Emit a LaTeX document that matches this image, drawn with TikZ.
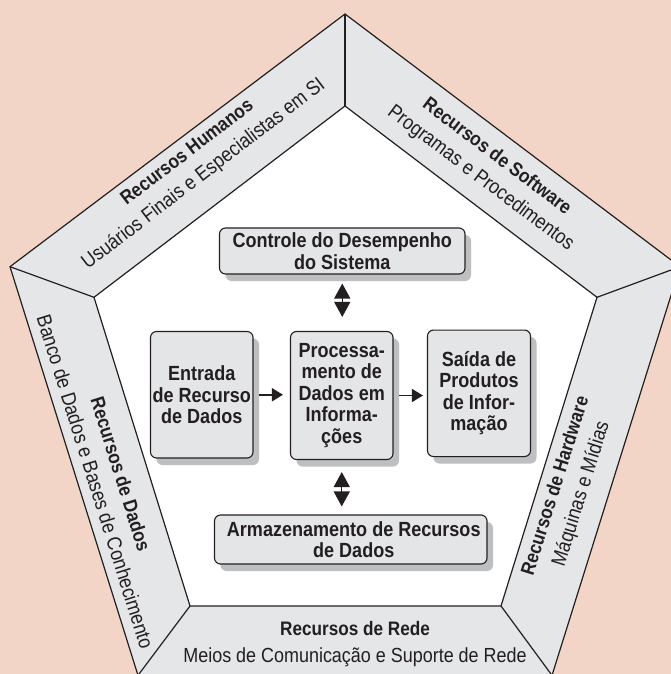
\documentclass[tikz,border=0pt]{standalone}
\usepackage{fontspec}
\setmainfont[FakeStretch=0.88]{Liberation Sans}
\usetikzlibrary{arrows.meta,shadows}

\definecolor{bgpink}{RGB}{242,213,198}
\definecolor{bandgray}{RGB}{229,230,232}
\definecolor{boxgray}{RGB}{228,229,231}
\definecolor{shadowgray}{RGB}{190,191,193}
\definecolor{ink}{RGB}{35,31,32}

\tikzset{
  procbox/.style={draw=ink, line width=1.1pt, fill=boxgray, rounded corners=6pt,
    align=center, inner sep=0pt, text=ink,
    font=\bfseries\fontsize{20.5}{21.5}\selectfont,
    drop shadow={shadow xshift=6pt, shadow yshift=-7pt, fill=shadowgray, opacity=1}},
  bandlabel/.style={align=center, inner sep=0pt, text=ink,
    font=\fontsize{20.4}{27}\selectfont},
  edgeline/.style={draw=ink, line width=1.2pt, line join=miter},
  flowarrow/.style={draw=ink, line width=1.6pt, -{Triangle[length=11pt,width=13pt]}},
  dblarrow/.style={draw=ink, line width=1.4pt,
    {Triangle[length=15pt,width=16pt]}-{Triangle[length=15pt,width=16pt]}}
}
\newcommand{\bandhead}[1]{{\bfseries\fontsize{19.5}{27}\selectfont #1}}

\begin{document}
\begin{tikzpicture}[x=1pt, y=-1pt]
  \useasboundingbox (0,0) rectangle (671,674);
  \clip (0,0) rectangle (671,674);
  \fill[bgpink] (0,0) rectangle (671,674);

  % outer and inner pentagon corners
  \coordinate (o1) at (345,14);
  \coordinate (o2) at (680,266.7);
  \coordinate (o3) at (552,675.4);
  \coordinate (o4) at (138,675.4);
  \coordinate (o5) at (10,266.7);
  \coordinate (i1) at (345,106);
  \coordinate (i2) at (597,297.3);
  \coordinate (i3) at (501,606);
  \coordinate (i4) at (190,606);
  \coordinate (i5) at (94,297.3);

  % resource band and white core
  \filldraw[edgeline, fill=bandgray] (o1) -- (o2) -- (o3) -- (o4) -- (o5) -- cycle;
  \filldraw[edgeline, fill=white] (i1) -- (i2) -- (i3) -- (i4) -- (i5) -- cycle;
  \foreach \k in {1,...,5} \draw[edgeline] (o\k) -- (i\k);

  % resource labels along the band
  \node[bandlabel, rotate=37.5] (hum) at (196,164)
    {\bandhead{Recursos Humanos}\\Usuários Finais e Especialistas em SI};
  \node[bandlabel, rotate=-37] (soft) at (488.5,168)
    {\bandhead{Recursos de Software}\\Programas e Procedimentos};
  \node[bandlabel, rotate=-72.6] (dados) at (108,478)
    {\bandhead{Recursos de Dados}\\Banco de Dados e Bases de Conhecimento};
  \node[bandlabel, rotate=72.6] (hard) at (569,490)
    {\bandhead{Recursos de Hardware}\\Máquinas e Mídias};
  \node[bandlabel] (rede) at (355,644)
    {\bandhead{Recursos de Rede}\\Meios de Comunicação e Suporte de Rede};

  % activity boxes
  \node[procbox, minimum width=245.5pt, minimum height=46pt] (ctrl) at (342.25,251)
    {Controle do Desempenho\\do Sistema};
  \node[procbox, minimum width=102.5pt, minimum height=126.5pt] (entr) at (201.75,394.75)
    {Entrada\\de Recurso\\de Dados};
  \node[procbox, minimum width=102.5pt, minimum height=128pt] (proc) at (341.75,395.5)
    {Processa-\\mento de\\Dados em\\Informa-\\ções};
  \node[procbox, minimum width=103pt, minimum height=126.5pt] (said) at (479,393.3)
    {Saída de\\Produtos\\de Infor-\\mação};
  \node[procbox, minimum width=272.5pt, minimum height=49pt] (arm) at (350.75,539.5)
    {\hspace*{6pt}Armazenamento de Recursos\\\hspace*{6pt}de Dados};

  % flows
  \draw[flowarrow, shorten <=5pt, shorten >=7pt] (entr.east) -- (entr.east -| proc.west);
  \draw[flowarrow, shorten <=5pt, shorten >=4pt] (proc.east) -- (proc.east -| said.west);
  \draw[dblarrow, shorten <=9pt, shorten >=14pt] (ctrl.south) -- (ctrl.south |- proc.north);
  \draw[dblarrow, shorten <=12pt, shorten >=8pt] (proc.south) -- (proc.south |- arm.north);
\end{tikzpicture}
\end{document}
